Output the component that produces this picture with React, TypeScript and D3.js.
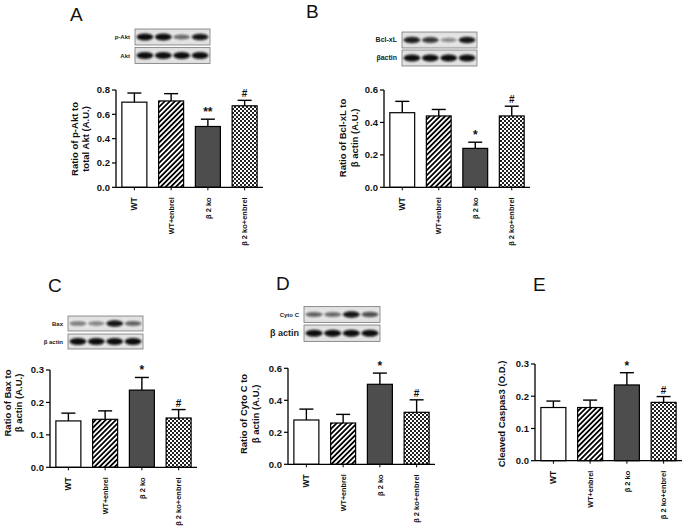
import React from 'react';
import * as d3 from 'd3';

const groups = ['WT', 'WT+enbrel', 'β 2 ko', 'β 2 ko+enbrel'];

// A: p-Akt / total Akt
const aktMean = [0.70, 0.71, 0.50, 0.67];
const aktErr = [0.075, 0.06, 0.06, 0.045];
const aktTicks = [0, 0.2, 0.4, 0.6, 0.8];
const aktMarks = ['', '', '**', '#'];

// B: Bcl-xL / b actin
const bclMean = [0.46, 0.44, 0.24, 0.44];
const bclErr = [0.07, 0.04, 0.038, 0.06];
const bclTicks = [0, 0.2, 0.4, 0.6];
const bclMarks = ['', '', '*', '#'];

// C: Bax / b actin
const baxMean = [0.143, 0.148, 0.238, 0.152];
const baxErr = [0.024, 0.026, 0.039, 0.026];
const baxTicks = [0, 0.1, 0.2, 0.3];
const baxMarks = ['', '', '*', '#'];

// D: Cyto C / b actin
const cytoMean = [0.277, 0.258, 0.50, 0.325];
const cytoErr = [0.068, 0.054, 0.07, 0.078];
const cytoTicks = [0, 0.2, 0.4, 0.6];
const cytoMarks = ['', '', '*', '#'];

// E: cleaved caspase 3
const casMean = [0.165, 0.165, 0.235, 0.181];
const casErr = [0.02, 0.023, 0.038, 0.018];
const casTicks = [0, 0.1, 0.2, 0.3];
const casMarks = ['', '', '*', '#'];

// western blot band strength per lane
const pAktBands = [1, 1, 0.45, 0.95];
const aktBands = [1, 1, 1, 1];
const bclBands = [0.9, 0.75, 0.25, 0.95];
const bclActinBands = [1, 1, 1, 1];
const baxBands = [0.35, 0.3, 0.95, 0.5];
const baxActinBands = [1, 1, 1, 1];
const cytoBands = [0.5, 0.45, 0.95, 0.6];
const cytoActinBands = [1, 1, 1, 1];

const FONT = "Arial, 'Liberation Sans', Helvetica, sans-serif";
const fills = ['#ffffff', 'url(#stripes)', '#4d4d4d', 'url(#checks)'];
const labelSizes = [8.5, 7.2, 7.5, 7.5];

interface BlotRow { label: string; y: number; h: number; bands: number[]; size: number }

function Blot({ x, w, rows }: { x: number; w: number; rows: BlotRow[] }) {
  const lane = d3.scaleBand<number>().domain([0, 1, 2, 3]).range([x, x + w]).padding(0.08);
  return (
    <g>
      {rows.map((r, k) => (
        <g key={k}>
          <rect x={x} y={r.y} width={w} height={r.h} fill="url(#blotbg)" stroke="#7a7a7a" strokeWidth={0.8} />
          <text x={x - 5} y={r.y + r.h / 2} dy="0.35em" textAnchor="end" fontSize={r.size} fontWeight="bold" fill="#222">{r.label}</text>
          {r.bands.map((b, i) => (
            <ellipse key={i} cx={(lane(i) ?? 0) + lane.bandwidth() / 2} cy={r.y + r.h / 2}
              rx={lane.bandwidth() / 2} ry={1.8 + 1.6 * b} fill="#0a0a0a" opacity={0.25 + 0.75 * b} filter="url(#blur)" />
          ))}
        </g>
      ))}
    </g>
  );
}

interface PanelProps {
  letter: string; lx: number; ly: number;
  x0: number; x1: number; yBase: number; yTop: number;
  ticks: number[]; mean: number[]; err: number[]; marks: string[];
  title: string[]; tx: number[]; ty: number;
}

function Panel(p: PanelProps) {
  const max = p.ticks[p.ticks.length - 1];
  const x = d3.scaleBand<string>().domain(groups).range([p.x0, p.x1]).paddingInner(0.32).paddingOuter(0.16);
  const y = d3.scaleLinear().domain([0, max]).range([p.yBase, p.yTop]);
  const bw = x.bandwidth();
  return (
    <g>
      <text x={p.lx} y={p.ly} fontSize={19} fill="#111">{p.letter}</text>
      {p.title.map((t, i) => (
        <text key={i} transform={`translate(${p.tx[i]},${p.ty}) rotate(-90)`} textAnchor="middle" dy="0.35em"
          fontSize={9.5} fontWeight="bold" fill="#111">{t}</text>
      ))}
      {groups.map((g, i) => {
        const cx = (x(g) ?? 0) + bw / 2;
        const top = y(p.mean[i]);
        const et = y(p.mean[i] + p.err[i]);
        return (
          <g key={g}>
            <line x1={cx} x2={cx} y1={top} y2={et} stroke="#000" strokeWidth={1.4} />
            <line x1={cx - 7} x2={cx + 7} y1={et} y2={et} stroke="#000" strokeWidth={1.4} />
            <rect x={x(g)} y={top} width={bw} height={p.yBase - top} fill={fills[i]} stroke="#000" strokeWidth={1.2} />
            {p.marks[i] && (
              <text x={cx} y={et - 3} textAnchor="middle" fontSize={p.marks[i] === '#' ? 10 : 12} fontWeight="bold" fill="#111">{p.marks[i]}</text>
            )}
            <line x1={cx} x2={cx} y1={p.yBase} y2={p.yBase + 3} stroke="#000" strokeWidth={1} />
            <text transform={`translate(${cx},${p.yBase + 10}) rotate(-90)`} textAnchor="end" dy="0.35em"
              fontSize={labelSizes[i]} fontWeight="bold" fill="#111">{g}</text>
          </g>
        );
      })}
      <line x1={p.x0} x2={p.x0} y1={p.yTop} y2={p.yBase} stroke="#000" strokeWidth={1.3} />
      <line x1={p.x0} x2={p.x1} y1={p.yBase} y2={p.yBase} stroke="#000" strokeWidth={1.3} />
      {p.ticks.map(t => (
        <g key={t}>
          <line x1={p.x0 - 4} x2={p.x0} y1={y(t)} y2={y(t)} stroke="#000" strokeWidth={1.2} />
          <text x={p.x0 - 6} y={y(t)} dy="0.35em" textAnchor="end" fontSize={9.5} fontWeight="bold" fill="#111">
            {d3.format('.1f')(t)}
          </text>
        </g>
      ))}
    </g>
  );
}

export default function App() {
  return (
    <svg width={685} height={530} fontFamily={FONT} style={{ position: 'absolute', left: 0, top: 0, background: '#fff' }}>
      <defs>
        <pattern id="stripes" width={3.6} height={3.6} patternUnits="userSpaceOnUse" patternTransform="rotate(45)">
          <rect width={3.6} height={3.6} fill="#fff" />
          <line x1={0.9} x2={0.9} y1={0} y2={3.6} stroke="#000" strokeWidth={1.8} />
        </pattern>
        <pattern id="checks" width={4} height={4} patternUnits="userSpaceOnUse">
          <rect width={4} height={4} fill="#fff" />
          <rect width={2} height={2} fill="#222" />
          <rect x={2} y={2} width={2} height={2} fill="#222" />
        </pattern>
        <linearGradient id="blotbg" x1="0" y1="0" x2="0" y2="1">
          <stop offset="0" stopColor="#dcdcdc" />
          <stop offset="0.5" stopColor="#efefef" />
          <stop offset="1" stopColor="#dcdcdc" />
        </linearGradient>
        <filter id="blur" x="-30%" y="-100%" width="160%" height="300%">
          <feGaussianBlur stdDeviation={1} />
        </filter>
      </defs>
      <rect width={685} height={530} fill="#fff" />

      <Panel letter="A" lx={70} ly={21} x0={116} x1={263} yBase={187.3} yTop={90}
        ticks={aktTicks} mean={aktMean} err={aktErr} marks={aktMarks}
        title={['Ratio of p-Akt to', 'total Akt (A.U.)']} tx={[75, 86]} ty={139} />
      <Blot x={135} w={75} rows={[
        { label: 'p-Akt', y: 29, h: 16, bands: pAktBands, size: 6 },
        { label: 'Akt', y: 47.5, h: 16, bands: aktBands, size: 6 },
      ]} />

      <Panel letter="B" lx={306} ly={18} x0={384} x1={530} yBase={187.3} yTop={90}
        ticks={bclTicks} mean={bclMean} err={bclErr} marks={bclMarks}
        title={['Ratio of Bcl-xL to', 'β actin (A.U.)']} tx={[343, 355]} ty={138} />
      <Blot x={402} w={75} rows={[
        { label: 'Bcl-xL', y: 32, h: 16, bands: bclBands, size: 7 },
        { label: 'βactin', y: 50, h: 16, bands: bclActinBands, size: 7 },
      ]} />

      <Panel letter="C" lx={48} ly={292} x0={50} x1={197} yBase={467.3} yTop={370}
        ticks={baxTicks} mean={baxMean} err={baxErr} marks={baxMarks}
        title={['Ratio of Bax to', 'β actin (A.U.)']} tx={[8, 19]} ty={403} />
      <Blot x={68} w={75} rows={[
        { label: 'Bax', y: 316, h: 15, bands: baxBands, size: 6 },
        { label: 'β actin', y: 334, h: 15, bands: baxActinBands, size: 6 },
      ]} />

      <Panel letter="D" lx={276} ly={290} x0={288} x1={435} yBase={464.3} yTop={368.3}
        ticks={cytoTicks} mean={cytoMean} err={cytoErr} marks={cytoMarks}
        title={['Ratio of Cyto C to', 'β actin  (A.U.)']} tx={[244, 256]} ty={414} />
      <Blot x={304} w={76} rows={[
        { label: 'Cyto C', y: 306.5, h: 16, bands: cytoBands, size: 6 },
        { label: 'β actin', y: 325, h: 16.5, bands: cytoActinBands, size: 9 },
      ]} />

      <Panel letter="E" lx={533} ly={291} x0={535} x1={682} yBase={460.7} yTop={364}
        ticks={casTicks} mean={casMean} err={casErr} marks={casMarks}
        title={['Cleaved Caspas3 (O.D.)']} tx={[502]} ty={414} />
    </svg>
  );
}
